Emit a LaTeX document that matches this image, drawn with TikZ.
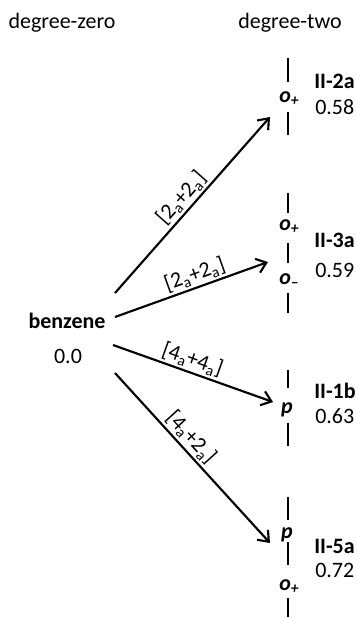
\documentclass[tikz,border=0pt]{standalone}
\usepackage{fontspec}
\setmainfont{Carlito}
\usetikzlibrary{arrows.meta}
\begin{document}
\begin{tikzpicture}[x=0.75pt,y=-0.75pt,
  every node/.style={font=\fontsize{16.5}{19}\selectfont, inner sep=0pt},
  conn/.style={line width=1.6pt, -{Straight Barb[length=7pt,width=11pt,line width=1.6pt]}},
  bar/.style={line width=1.8pt},
  edgelbl/.style={sloped, above, inner sep=1.5pt},
  lab/.style={anchor=base west, font=\fontsize{16.5}{19}\selectfont\bfseries},
  val/.style={anchor=base west},
  possym/.style={font=\fontsize{16.5}{19}\selectfont\bfseries\itshape}]
\useasboundingbox (0,0) rectangle (357,619);

% headers
\node[anchor=base] (dz) at (62,28) {degree-zero};
\node[anchor=base] (dt) at (290,28) {degree-two};

% benzene
\node[anchor=base, font=\fontsize{16.5}{19}\selectfont\bfseries] (bz) at (67,328) {benzene};
\node[anchor=base] (bzv) at (68,363) {0.0};

% right labels
\node[lab] (l1) at (314,88) {II-2a};
\node[val] (v1) at (315,114) {0.58};
\node[lab] (l2) at (314,247) {II-3a};
\node[val] (v2) at (315,277) {0.59};
\node[lab] (l3) at (314,398) {II-1b};
\node[val] (v3) at (315,423) {0.63};
\node[lab] (l4) at (314,553) {II-5a};
\node[val] (v4) at (315,577) {0.72};

% column symbols
\node[possym, anchor=base west] (o1) at (279,102) {o\textsubscript{+}};
\node[possym, anchor=base west] (o2) at (279,230) {o\textsubscript{+}};
\node[possym, anchor=base west] (o3) at (279,284) {o\textsubscript{\textendash}};
\node[possym, anchor=base] (p3) at (287,413) {p};
\node[possym, anchor=base] (p4) at (287,538) {p};
\node[possym, anchor=base west] (o4) at (279,590) {o\textsubscript{+}};

% bars
\draw[bar] (288,58) -- (288,82);
\draw[bar] (288,112) -- (288,135);
\draw[bar] (288,193) -- (288,213);
\draw[bar] (288,243) -- (288,263);
\draw[bar] (288,293) -- (288,313);
\draw[bar] (288,370) -- (288,388);
\draw[bar] (288,423) -- (288,446);
\draw[bar] (288,497) -- (288,520);
\draw[bar] (288,542) -- (288,565);
\draw[bar] (288,598) -- (288,617);

% arrow end points
\coordinate (a1s) at (115,293);
\coordinate (a1e) at (270,117);
\coordinate (a2s) at (115,317);
\coordinate (a2e) at (268,262);
\coordinate (a3s) at (113,345);
\coordinate (a3e) at (273,402);
\coordinate (a4s) at (115,373);
\coordinate (a4e) at (270,543);

\draw[conn] (a1s) -- node[edgelbl, pos=0.49] (e1) {[2\textsubscript{a}+2\textsubscript{a}]} (a1e);
\draw[conn] (a2s) -- node[edgelbl, pos=0.55] (e2) {[2\textsubscript{a}+2\textsubscript{a}]} (a2e);
\draw[conn] (a3s) -- node[edgelbl, pos=0.47] (e3) {[4\textsubscript{a}+4\textsubscript{a}]} (a3e);
\draw[conn] (a4s) -- node[edgelbl, pos=0.43] (e4) {[4\textsubscript{a}+2\textsubscript{a}]} (a4e);
\end{tikzpicture}
\end{document}
